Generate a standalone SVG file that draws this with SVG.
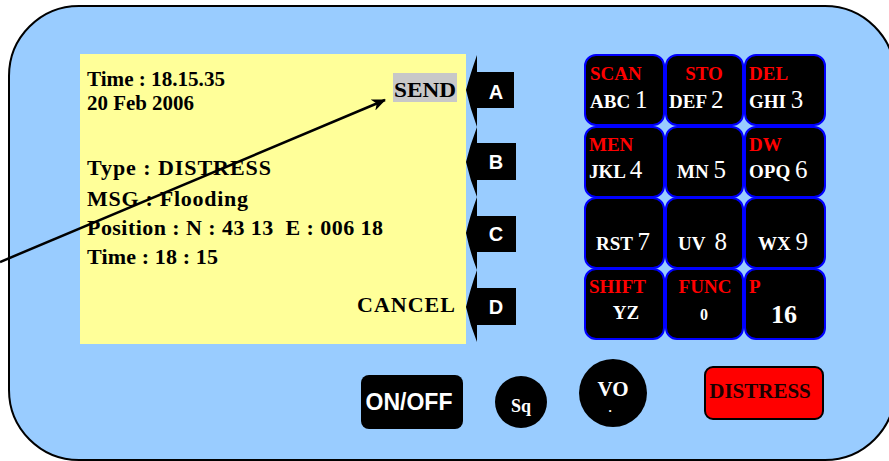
<svg xmlns="http://www.w3.org/2000/svg" width="889" height="461" viewBox="0 0 889 461">
<defs>
<style>
.scr{font-family:"Liberation Serif","Times New Roman",serif;font-weight:bold;font-size:22px;fill:#000}
.soft{fill:#000}
.key{fill:#000;stroke:#0000ff;stroke-width:2}
.red{font-family:"Liberation Serif","Times New Roman",serif;font-weight:bold;font-size:19px;fill:#ff0000}
.wht{font-family:"Liberation Serif","Times New Roman",serif;font-weight:bold;font-size:19px;fill:#fff}
.num{font-weight:normal;font-size:25px}
.let{font-family:"Liberation Sans",Arial,sans-serif;font-weight:bold;font-size:20px;fill:#fff;text-anchor:middle}
</style>
<marker id="ah" viewBox="0 0 14 12" refX="13" refY="6" markerWidth="14" markerHeight="12" markerUnits="userSpaceOnUse" orient="auto">
<path d="M0,0 L14,6 L0,12 L4,6 z" fill="#000"/>
</marker>
</defs>
<g id="panel">
<rect x="9" y="6" width="886" height="454" rx="70" ry="70" fill="#99ccff" stroke="#000" stroke-width="2"/>
</g>
<g id="screen">
<rect x="80" y="54" width="386" height="290" fill="#ffff99"/>
<rect x="393" y="73" width="64" height="29" fill="#c8c8c8"/>
<text class="scr" x="87" y="86" textLength="138" lengthAdjust="spacingAndGlyphs">Time : 18.15.35</text>
<text class="scr" x="87" y="110" textLength="107" lengthAdjust="spacingAndGlyphs">20 Feb 2006</text>
<text class="scr" x="87" y="175" textLength="184" lengthAdjust="spacing">Type : DISTRESS</text>
<text class="scr" x="87" y="206" textLength="161" lengthAdjust="spacing">MSG : Flooding</text>
<text class="scr" x="87" y="235" xml:space="preserve" textLength="296" lengthAdjust="spacing">Position : N : 43 13  E : 006 18</text>
<text class="scr" x="87" y="264" textLength="131" lengthAdjust="spacing">Time : 18 : 15</text>
<text class="scr" x="394" y="97" textLength="62" lengthAdjust="spacingAndGlyphs">SEND</text>
<text class="scr" x="357" y="312" textLength="98" lengthAdjust="spacing">CANCEL</text>
</g>
<g id="softkey-A">
<path class="soft" d="M477,55 Q470,75 466,90 Q470,108 477,127 L477,108 L514,108 L514,72 L477,72 Z"/>
<text class="let" x="496" y="99">A</text>
</g>
<g id="softkey-B">
<path class="soft" d="M477,127 Q470,145 466,162 Q470,180 477,197 L477,180 L516,180 L516,143 L477,143 Z"/>
<text class="let" x="496" y="169">B</text>
</g>
<g id="softkey-C">
<path class="soft" d="M477,197 Q470,216 466,233 Q470,252 477,270 L477,252 L516,252 L516,216 L477,216 Z"/>
<text class="let" x="496" y="241">C</text>
</g>
<g id="softkey-D">
<path class="soft" d="M477,270 Q470,290 466,307 Q470,325 477,342 L477,325 L516,325 L516,288 L477,288 Z"/>
<text class="let" x="496" y="314">D</text>
</g>
<g id="key-1">
<rect class="key" x="585" y="55" width="79" height="70" rx="11"/>
<text class="red" x="590" y="80">SCAN</text>
<text class="wht" x="590" y="108">ABC <tspan class="num">1</tspan></text>
</g>
<g id="key-2">
<rect class="key" x="666" y="55" width="77" height="70" rx="11"/>
<text class="red" x="704" y="80" text-anchor="middle">STO</text>
<text class="wht" x="669" y="108">DEF <tspan class="num">2</tspan></text>
</g>
<g id="key-3">
<rect class="key" x="745" y="55" width="80" height="70" rx="11"/>
<text class="red" x="749" y="80">DEL</text>
<text class="wht" x="749" y="108">GHI <tspan class="num">3</tspan></text>
</g>
<g id="key-4">
<rect class="key" x="585" y="127" width="79" height="70" rx="11"/>
<text class="red" x="589" y="151">MEN</text>
<text class="wht" x="589" y="178">JKL <tspan class="num">4</tspan></text>
</g>
<g id="key-5">
<rect class="key" x="666" y="127" width="77" height="70" rx="11"/>
<text class="wht" x="677" y="178">MN <tspan class="num">5</tspan></text>
</g>
<g id="key-6">
<rect class="key" x="745" y="127" width="80" height="70" rx="11"/>
<text class="red" x="749" y="151">DW</text>
<text class="wht" x="749" y="178">OPQ <tspan class="num">6</tspan></text>
</g>
<g id="key-7">
<rect class="key" x="585" y="198" width="79" height="70" rx="11"/>
<text class="wht" x="596" y="250">RST <tspan class="num">7</tspan></text>
</g>
<g id="key-8">
<rect class="key" x="666" y="198" width="77" height="70" rx="11"/>
<text class="wht" x="678" y="250" xml:space="preserve">UV  <tspan class="num">8</tspan></text>
</g>
<g id="key-9">
<rect class="key" x="745" y="198" width="80" height="70" rx="11"/>
<text class="wht" x="758" y="250">WX <tspan class="num">9</tspan></text>
</g>
<g id="key-shift">
<rect class="key" x="585" y="269" width="79" height="70" rx="11"/>
<text class="red" x="589" y="293">SHIFT</text>
<text class="wht" x="626" y="319" text-anchor="middle">YZ</text>
</g>
<g id="key-func">
<rect class="key" x="666" y="269" width="77" height="70" rx="11"/>
<text class="red" x="705" y="293" text-anchor="middle">FUNC</text>
<text class="wht" x="704" y="320" text-anchor="middle" style="font-size:16px">0</text>
</g>
<g id="key-p">
<rect class="key" x="745" y="269" width="80" height="70" rx="11"/>
<text class="red" x="749" y="293">P</text>
<text class="wht" x="784" y="323" text-anchor="middle" style="font-size:26px">16</text>
</g>
<g id="btn-onoff">
<rect x="361" y="375" width="102" height="54" rx="8" fill="#000"/>
<text x="409" y="410" text-anchor="middle" style="font-family:'Liberation Sans',Arial,sans-serif;font-weight:bold;font-size:23px;fill:#fff">ON/OFF</text>
</g>
<g id="btn-sq">
<circle cx="521" cy="402" r="26" fill="#000"/>
<text x="521" y="412" text-anchor="middle" class="wht" style="font-size:18px">Sq</text>
</g>
<g id="btn-vo">
<circle cx="613" cy="393" r="34" fill="#000"/>
<text x="613" y="396" text-anchor="middle" class="wht" style="font-size:21px">VO</text>
<text x="610" y="412" text-anchor="middle" class="wht" style="font-size:13px">.</text>
</g>
<g id="btn-distress">
<rect x="705" y="367" width="118" height="52" rx="8" fill="#ff0000" stroke="#000" stroke-width="2"/>
<text x="760" y="398" text-anchor="middle" style="font-family:'Liberation Serif','Times New Roman',serif;font-weight:bold;font-size:21px;fill:#1a0000">DISTRESS</text>
</g>
<g id="connectors">
<line x1="0" y1="262" x2="385" y2="100" stroke="#000" stroke-width="2.5" marker-end="url(#ah)"/>
</g>
</svg>
